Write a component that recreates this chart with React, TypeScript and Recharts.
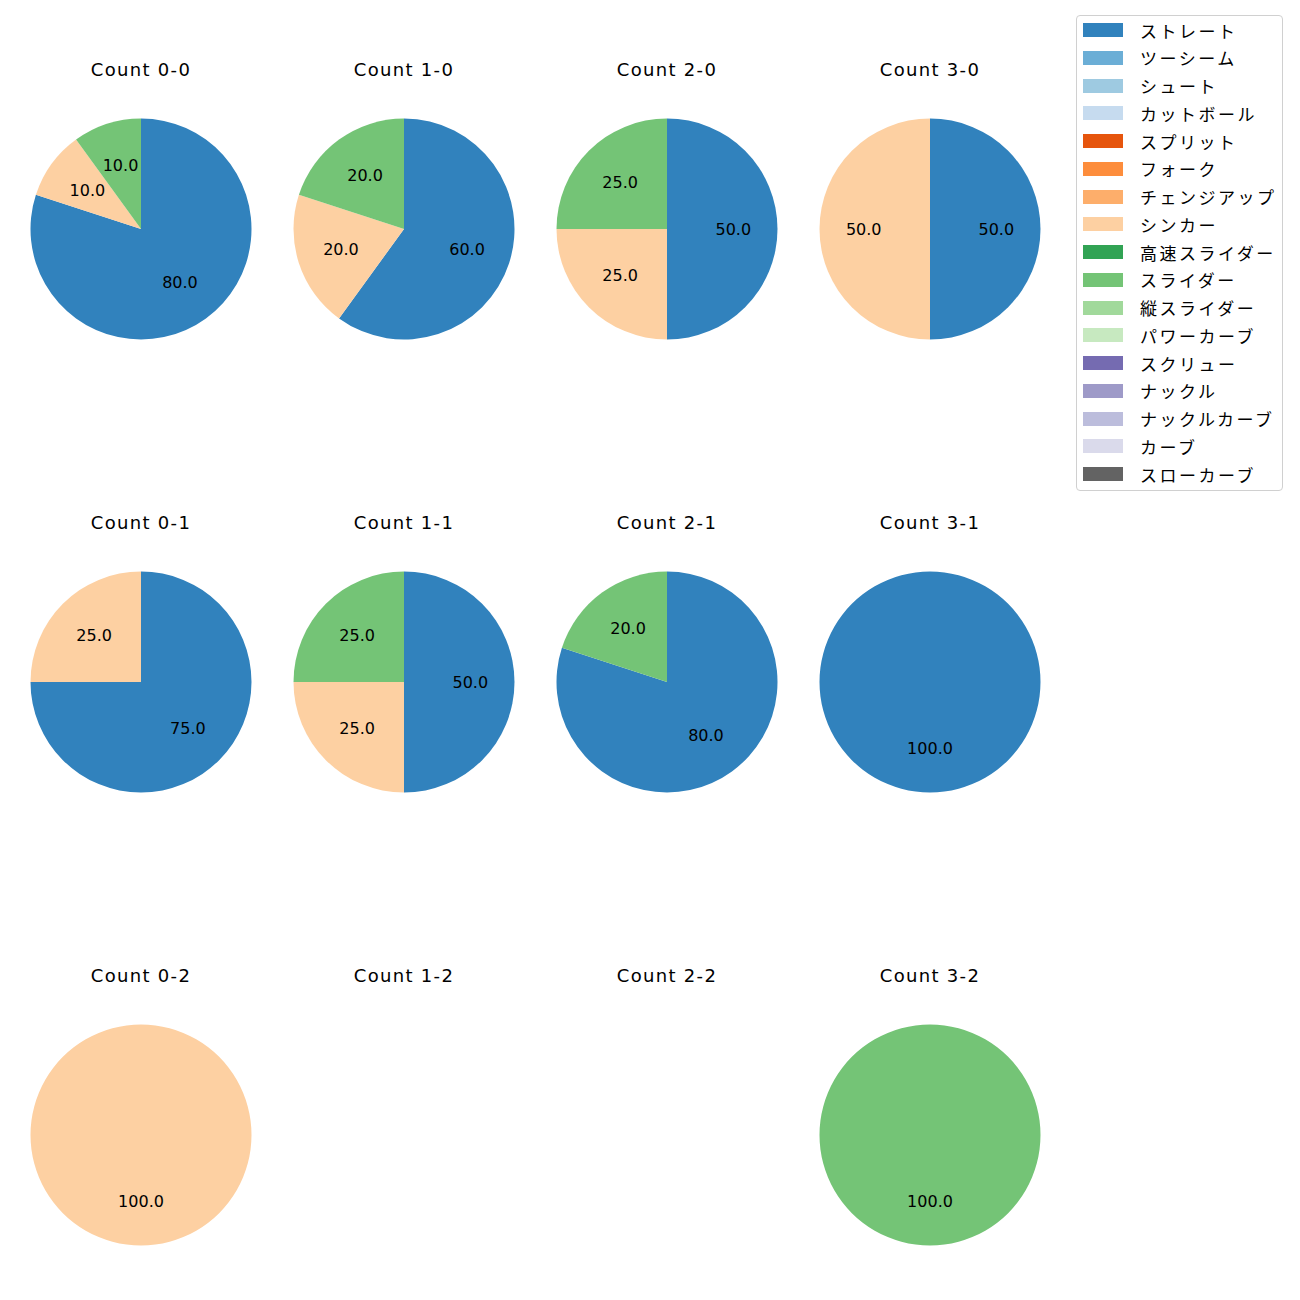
import React from "react";
import { Cell, Pie, PieChart } from "recharts";

const pitchTypes = [
  "ストレート", "ツーシーム", "シュート", "カットボール", "スプリット", "フォーク",
  "チェンジアップ", "シンカー", "高速スライダー", "スライダー", "縦スライダー",
  "パワーカーブ", "スクリュー", "ナックル", "ナックルカーブ", "カーブ", "スローカーブ",
];
const pitchColors = [
  "#3182bd", "#6baed6", "#9ecae1", "#c6dbef", "#e6550d", "#fd8d3c",
  "#fdae6b", "#fdd0a2", "#31a354", "#74c476", "#a1d99b",
  "#c7e9c0", "#756bb1", "#9e9ac8", "#bcbddc", "#dadaeb", "#636363",
];

// share (%) per pitch type for each count, clockwise from 12 o'clock
const count00 = [{ type: "ストレート", value: 80 }, { type: "シンカー", value: 10 }, { type: "スライダー", value: 10 }];
const count10 = [{ type: "ストレート", value: 60 }, { type: "シンカー", value: 20 }, { type: "スライダー", value: 20 }];
const count20 = [{ type: "ストレート", value: 50 }, { type: "シンカー", value: 25 }, { type: "スライダー", value: 25 }];
const count30 = [{ type: "ストレート", value: 50 }, { type: "シンカー", value: 50 }];
const count01 = [{ type: "ストレート", value: 75 }, { type: "シンカー", value: 25 }];
const count11 = [{ type: "ストレート", value: 50 }, { type: "シンカー", value: 25 }, { type: "スライダー", value: 25 }];
const count21 = [{ type: "ストレート", value: 80 }, { type: "スライダー", value: 20 }];
const count31 = [{ type: "ストレート", value: 100 }];
const count02 = [{ type: "シンカー", value: 100 }];
const count12: { type: string; value: number }[] = [];
const count22: { type: string; value: number }[] = [];
const count32 = [{ type: "スライダー", value: 100 }];

const panels = [
  { title: "Count 0-0", data: count00 },
  { title: "Count 1-0", data: count10 },
  { title: "Count 2-0", data: count20 },
  { title: "Count 3-0", data: count30 },
  { title: "Count 0-1", data: count01 },
  { title: "Count 1-1", data: count11 },
  { title: "Count 2-1", data: count21 },
  { title: "Count 3-1", data: count31 },
  { title: "Count 0-2", data: count02 },
  { title: "Count 1-2", data: count12 },
  { title: "Count 2-2", data: count22 },
  { title: "Count 3-2", data: count32 },
];

const LATIN = "'DejaVu Sans', sans-serif";
const CJK = "'Noto Sans CJK JP', sans-serif";
const colX = [141, 404, 667, 930];
const rowY = [229, 682, 1135];
const RADIAN = Math.PI / 180;

function colorOf(type: string) {
  return pitchColors[pitchTypes.indexOf(type)];
}

function renderLabel(props: any) {
  const { cx, cy, midAngle, outerRadius, value } = props;
  const r = outerRadius * 0.6;
  const x = cx + r * Math.cos(-midAngle * RADIAN);
  const y = cy + r * Math.sin(-midAngle * RADIAN);
  return (
    <text x={x} y={y} textAnchor="middle" dominantBaseline="central" fill="#000" fontSize={16} fontFamily={LATIN}>
      {value.toFixed(1)}
    </text>
  );
}

function Panel({ title, data, cx, cy }: { title: string; data: { type: string; value: number }[]; cx: number; cy: number }) {
  return (
    <>
      <div
        style={{
          position: "absolute", left: cx - 100, top: cy - 171, width: 200, textAlign: "center",
          fontSize: 18, fontFamily: LATIN, letterSpacing: 1.3, color: "#000", lineHeight: "24px",
        }}
      >
        {title}
      </div>
      {data.length > 0 && (
        <div style={{ position: "absolute", left: cx - 120, top: cy - 120 }}>
          <PieChart width={240} height={240} margin={{ top: 0, right: 0, bottom: 0, left: 0 }}>
            <Pie
              data={data}
              dataKey="value"
              nameKey="type"
              cx={120}
              cy={120}
              outerRadius={110.5}
              startAngle={90}
              endAngle={-270}
              stroke="none"
              label={renderLabel}
              labelLine={false}
              isAnimationActive={false}
            >
              {data.map((d) => (
                <Cell key={d.type} fill={colorOf(d.type)} />
              ))}
            </Pie>
          </PieChart>
        </div>
      )}
    </>
  );
}

function LegendBox() {
  return (
    <div
      style={{
        position: "absolute", left: 1076, top: 15, width: 205, height: 474,
        border: "1px solid #d0d0d0", borderRadius: 4, background: "#fff",
      }}
    >
      {pitchTypes.map((t, i) => (
        <div key={t} style={{ position: "absolute", left: 6, top: 7 + i * 27.75, height: 14, display: "flex", alignItems: "center" }}>
          <div style={{ width: 40, height: 14, background: pitchColors[i] }} />
          <span style={{ marginLeft: 17, fontSize: 17, letterSpacing: 2.5, fontFamily: CJK, color: "#000", whiteSpace: "nowrap" }}>{t}</span>
        </div>
      ))}
    </div>
  );
}

export default function App() {
  return (
    <div style={{ position: "absolute", left: 0, top: 0, width: 1300, height: 1300, background: "#fff" }}>
      {panels.map((p, i) => (
        <Panel key={p.title} title={p.title} data={p.data} cx={colX[i % 4]} cy={rowY[Math.floor(i / 4)]} />
      ))}
      <LegendBox />
    </div>
  );
}
